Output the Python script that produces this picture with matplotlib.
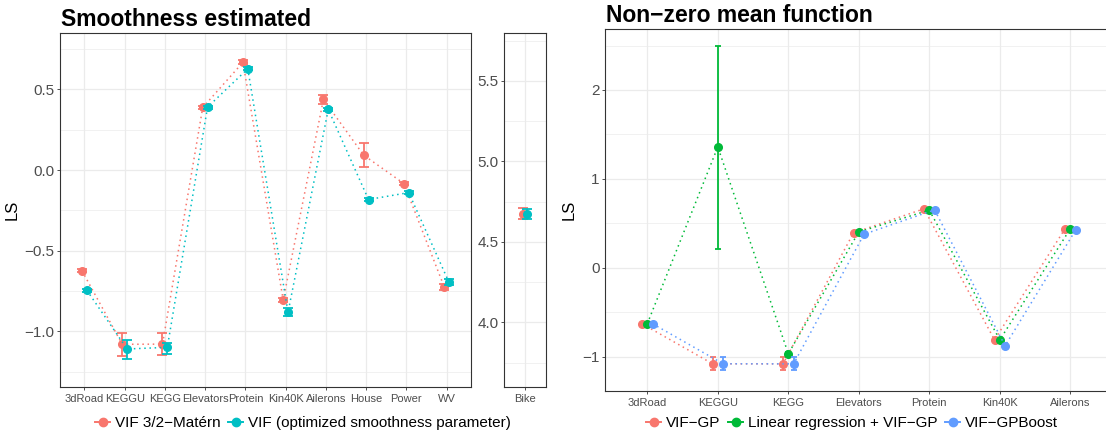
import matplotlib
matplotlib.use("Agg")
import matplotlib.pyplot as plt
from matplotlib.lines import Line2D
from matplotlib.ticker import FuncFormatter, MultipleLocator
import numpy as np

plt.rcParams['font.family'] = ['Liberation Sans', 'DejaVu Sans']

# ---- left: smoothness estimated ----
left_cats = ["3dRoad", "KEGGU", "KEGG", "Elevators", "Protein", "Kin40K",
             "Ailerons", "House", "Power", "WV"]
matern_ls = [-0.625, -1.081, -1.080, 0.388, 0.668, -0.806, 0.438, 0.092, -0.084, -0.724]
matern_lo = [-0.635, -1.152, -1.150, 0.378, 0.656, -0.816, 0.410, 0.017, -0.094, -0.744]
matern_hi = [-0.615, -1.009, -1.010, 0.398, 0.680, -0.796, 0.466, 0.167, -0.074, -0.704]
optnu_ls = [-0.746, -1.110, -1.100, 0.390, 0.628, -0.883, 0.376, -0.183, -0.140, -0.696]
optnu_lo = [-0.756, -1.170, -1.140, 0.380, 0.618, -0.908, 0.366, -0.193, -0.150, -0.716]
optnu_hi = [-0.736, -1.054, -1.070, 0.400, 0.638, -0.858, 0.386, -0.173, -0.130, -0.676]

bike_cat = ["Bike"]
bike_matern = [4.674]
bike_matern_lo = [4.640]
bike_matern_hi = [4.708]
bike_optnu = [4.672]
bike_optnu_lo = [4.640]
bike_optnu_hi = [4.704]

# ---- right: non-zero mean function ----
right_cats = ["3dRoad", "KEGGU", "KEGG", "Elevators", "Protein", "Kin40K", "Ailerons"]
vifgp_ls = [-0.629, -1.079, -1.080, 0.393, 0.664, -0.810, 0.439]
vifgp_lo = [-0.639, -1.153, -1.153, 0.383, 0.654, -0.820, 0.429]
vifgp_hi = [-0.619, -1.007, -1.007, 0.403, 0.674, -0.800, 0.449]
linreg_ls = [-0.629, 1.360, -0.966, 0.404, 0.649, -0.810, 0.439]
linreg_lo = [-0.639, 0.217, -0.996, 0.394, 0.639, -0.820, 0.429]
linreg_hi = [-0.619, 2.498, -0.944, 0.414, 0.659, -0.800, 0.449]
boost_ls = [-0.629, -1.079, -1.080, 0.378, 0.652, -0.877, 0.424]
boost_lo = [-0.639, -1.153, -1.153, 0.368, 0.642, -0.887, 0.414]
boost_hi = [-0.619, -1.007, -1.007, 0.388, 0.662, -0.867, 0.434]

RED = "#F8766D"
CYAN = "#00BFC4"
GREEN = "#00BA38"
BLUE = "#619CFF"
GRID = "#EBEBEB"
FRAME = "#333333"
TICKTXT = "#4D4D4D"


def minus_fmt(fmt):
    return FuncFormatter(lambda v, p: (fmt % v).replace("-", "\u2212"))


def style(ax, ymaj, ymin, fmt):
    ax.set_facecolor("white")
    ax.yaxis.set_major_locator(MultipleLocator(ymaj))
    ax.yaxis.set_minor_locator(MultipleLocator(ymin))
    ax.yaxis.set_major_formatter(minus_fmt(fmt))
    ax.grid(True, which="major", color=GRID, lw=0.9)
    ax.grid(True, which="minor", axis="y", color=GRID, lw=0.5)
    ax.set_axisbelow(True)
    for s in ax.spines.values():
        s.set_color(FRAME)
        s.set_linewidth(0.8)
    ax.tick_params(axis="both", which="major", length=2.5, width=0.6, color=FRAME,
                   labelcolor=TICKTXT, pad=1.5)
    ax.tick_params(axis="y", which="minor", length=0)
    ax.tick_params(axis="y", labelsize=11)
    ax.tick_params(axis="x", labelsize=8, pad=2.5)


def series(ax, x, y, lo, hi, color, cap, z):
    x = np.asarray(x, float)
    y = np.asarray(y)
    err = [y - np.asarray(lo), np.asarray(hi) - y]
    ax.plot(x, y, color=color, lw=1.1, ls=(0, (1, 2.4)), zorder=z)
    ax.errorbar(x, y, yerr=err, fmt="o", color=color, ms=5.5, elinewidth=1.3,
                capsize=cap, capthick=1.3, zorder=z + 1)


fig = plt.figure(figsize=(11.06, 4.36), dpi=100)

# left main panel
ax1 = fig.add_axes([60.3 / 1106, 1 - 386.7 / 436, 410.4 / 1106, 353.4 / 436])
xl = np.arange(1, len(left_cats) + 1)
d = 0.06
series(ax1, xl - d, matern_ls, matern_lo, matern_hi, RED, 3.8, 3)
series(ax1, xl + d, optnu_ls, optnu_lo, optnu_hi, CYAN, 3.8, 5)
ax1.set_xlim(0.4, len(left_cats) + 0.6)
ax1.set_ylim(-1.344, 0.848)
ax1.set_xticks(xl)
ax1.set_xticklabels(left_cats)
style(ax1, 0.5, 0.25, "%.1f")
ax1.set_ylabel("LS", fontsize=12, labelpad=4)
fig.text(61 / 1106, 1 - 26 / 436, "Smoothness estimated", fontsize=16.5,
         fontweight="bold", ha="left", va="baseline")

# bike panel
ax2 = fig.add_axes([504 / 1106, 1 - 386.7 / 436, 41.7 / 1106, 353.4 / 436])
xb = np.arange(1, 2)
series(ax2, xb - d, bike_matern, bike_matern_lo, bike_matern_hi, RED, 3.8, 3)
series(ax2, xb + d, bike_optnu, bike_optnu_lo, bike_optnu_hi, CYAN, 3.8, 5)
ax2.set_xlim(0.4, 1.6)
ax2.set_ylim(3.60, 5.796)
ax2.set_xticks(xb)
ax2.set_xticklabels(bike_cat)
style(ax2, 0.5, 0.25, "%.1f")

# right panel (extends past the right edge, as in the source image)
ax3 = fig.add_axes([605 / 1106, 1 - 390.7 / 436, 507.6 / 1106, 361.7 / 436])
xr = np.arange(1, len(right_cats) + 1)
dr = 0.075
series(ax3, xr - dr, vifgp_ls, vifgp_lo, vifgp_hi, RED, 2.5, 3)
series(ax3, xr, linreg_ls, linreg_lo, linreg_hi, GREEN, 2.5, 5)
series(ax3, xr + dr, boost_ls, boost_lo, boost_hi, BLUE, 2.5, 7)
ax3.set_xlim(0.4, len(right_cats) + 0.6)
ax3.set_ylim(-1.382, 2.686)
ax3.set_xticks(xr)
ax3.set_xticklabels(right_cats)
style(ax3, 1, 0.5, "%d")
ax3.set_ylabel("LS", fontsize=12, labelpad=4)
fig.text(606 / 1106, 1 - 21.5 / 436, "Non\u2212zero mean function", fontsize=16.5,
         fontweight="bold", ha="left", va="baseline")


def key(c):
    return Line2D([], [], color=c, marker="o", ms=6, lw=1.4)


fig.legend([key(RED), key(CYAN)],
           ["VIF 3/2\u2212Mat\u00e9rn", "VIF (optimized smoothness parameter)"],
           loc="center", bbox_to_anchor=(303 / 1106, 1 - 423 / 436), ncol=2,
           frameon=False, fontsize=11, handlelength=1.0, handletextpad=0.3,
           columnspacing=0.5)
fig.legend([key(RED), key(GREEN), key(BLUE)],
           ["VIF\u2212GP", "Linear regression + VIF\u2212GP", "VIF\u2212GPBoost"],
           loc="center", bbox_to_anchor=(852 / 1106, 1 - 423 / 436), ncol=3,
           frameon=False, fontsize=11, handlelength=1.0, handletextpad=0.3,
           columnspacing=0.5)

fig.savefig("out.png", dpi=100, facecolor="white")
